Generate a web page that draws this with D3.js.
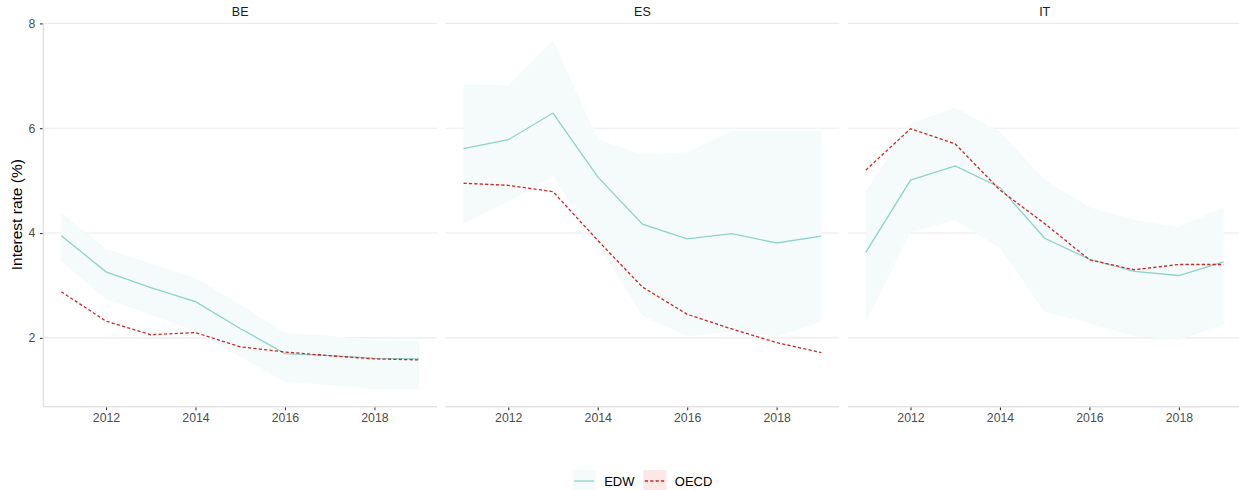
<!DOCTYPE html>
<html>
<head>
<meta charset="utf-8">
<script src="https://cdn.jsdelivr.net/npm/d3@7"></script>
<style>
  html, body { margin: 0; padding: 0; background: #ffffff; }
  svg { display: block; font-family: "Liberation Sans", Arial, sans-serif; }
</style>
</head>
<body>
<svg id="chart" width="1239" height="490"></svg>
<script>
// Years on the x axis
const years = [2011, 2012, 2013, 2014, 2015, 2016, 2017, 2018, 2019];
const countries = ["BE", "ES", "IT"];
const seriesNames = ["EDW", "OECD"];
const yTicks = [2, 4, 6, 8];
const xTicks = [2012, 2014, 2016, 2018];

// EDW central estimate and its band, OECD reference rate (%)
const beEdw  = [3.95, 3.26, 2.96, 2.69, 2.18, 1.70, 1.66, 1.61, 1.60];
const beLow  = [3.45, 2.74, 2.44, 2.12, 1.64, 1.16, 1.10, 1.02, 1.02];
const beHigh = [4.38, 3.70, 3.42, 3.14, 2.63, 2.10, 2.04, 1.96, 1.94];
const beOecd = [2.88, 2.32, 2.06, 2.10, 1.83, 1.73, 1.66, 1.60, 1.58];

const esEdw  = [5.61, 5.78, 6.29, 5.07, 4.17, 3.89, 3.99, 3.81, 3.94];
const esLow  = [4.18, 4.60, 5.09, 3.78, 2.42, 2.03, 2.12, 2.03, 2.31];
const esHigh = [6.83, 6.82, 7.68, 5.79, 5.50, 5.54, 5.94, 5.94, 5.94];
const esOecd = [4.95, 4.91, 4.79, 3.86, 2.97, 2.45, 2.17, 1.91, 1.72];

const itEdw  = [3.63, 5.01, 5.28, 4.87, 3.90, 3.50, 3.27, 3.19, 3.45];
const itLow  = [2.31, 4.02, 4.25, 3.71, 2.50, 2.28, 2.04, 1.96, 2.26];
const itHigh = [4.80, 6.09, 6.39, 5.93, 5.01, 4.49, 4.25, 4.11, 4.49];
const itOecd = [5.20, 5.99, 5.70, 4.82, 4.18, 3.49, 3.30, 3.40, 3.40];

const panels = [
  { name: countries[0], edw: beEdw, low: beLow, high: beHigh, oecd: beOecd },
  { name: countries[1], edw: esEdw, low: esLow, high: esHigh, oecd: esOecd },
  { name: countries[2], edw: itEdw, low: itLow, high: itHigh, oecd: itOecd }
];

const colEdw = "#8dd3c7";
const colBand = "#f4fbfa";
const colOecd = "#cd2626";
const colOecdKey = "#fde8e8";
const colGrid = "#ebebeb";
const colAxis = "#e3e3e3";
const colTickText = "#4d4d4d";
const font = "Liberation Sans, Arial, sans-serif";

const svg = d3.select("#chart");

// Panel geometry
const panelTop = 22.7, panelBottom = 406.7;
const firstLeft = 43.4, panelWidth = 393.6, panelStep = 402.25;

// Shared y scale with 5% expansion of the data range
const allVals = panels.flatMap(p => [...p.edw, ...p.low, ...p.high, ...p.oecd]);
const yMin = d3.min(allVals), yMax = d3.max(allVals);
const yPad = (yMax - yMin) * 0.05;
const y = d3.scaleLinear().domain([yMin - yPad, yMax + yPad]).range([panelBottom, panelTop]);

const xPad = (d3.max(years) - d3.min(years)) * 0.05;

panels.forEach((p, i) => {
  const left = firstLeft + i * panelStep;
  const x = d3.scaleLinear()
    .domain([d3.min(years) - xPad, d3.max(years) + xPad])
    .range([left, left + panelWidth]);

  const g = svg.append("g");

  // horizontal grid
  g.selectAll("line.grid").data(yTicks).join("line")
    .attr("x1", left).attr("x2", left + panelWidth)
    .attr("y1", d => y(d)).attr("y2", d => y(d))
    .attr("stroke", colGrid).attr("stroke-width", 1.1);

  // strip label
  g.append("text")
    .attr("x", left + panelWidth / 2).attr("y", 15.5)
    .attr("text-anchor", "middle")
    .attr("font-size", 12.5).attr("fill", "#1a1a1a")
    .text(p.name);

  // band
  const area = d3.area()
    .x((d, j) => x(years[j]))
    .y0((d, j) => y(p.low[j]))
    .y1((d, j) => y(p.high[j]));
  g.append("path").datum(years).attr("d", area).attr("fill", colBand);

  // lines
  const line = arr => d3.line().x((d, j) => x(years[j])).y((d, j) => y(arr[j]))(years);
  g.append("path").attr("d", line(p.edw))
    .attr("fill", "none").attr("stroke", colEdw).attr("stroke-width", 1.3);
  g.append("path").attr("d", line(p.oecd))
    .attr("fill", "none").attr("stroke", colOecd).attr("stroke-width", 1.3)
    .attr("stroke-dasharray", "3.2,2.2");

  // x axis
  const xAxis = d3.axisBottom(x).tickValues(xTicks).tickFormat(d3.format("d"))
    .tickSize(3.5).tickPadding(3);
  const ax = g.append("g").attr("transform", `translate(0,${panelBottom})`).call(xAxis);
  ax.select(".domain").remove();
  ax.selectAll(".tick line").attr("stroke", "#333333").attr("stroke-width", 1.1);
  ax.selectAll(".tick text").attr("fill", colTickText).attr("font-size", 12.3)
    .attr("font-family", font);
  g.append("line")
    .attr("x1", left).attr("x2", left + panelWidth)
    .attr("y1", panelBottom).attr("y2", panelBottom)
    .attr("stroke", colAxis).attr("stroke-width", 1.6);

  // y axis on the first panel only
  if (i === 0) {
    const yAxis = d3.axisLeft(y).tickValues(yTicks).tickFormat(d3.format("d"))
      .tickSize(3.5).tickPadding(4.5);
    const ay = g.append("g").attr("transform", `translate(${left},0)`).call(yAxis);
    ay.select(".domain").remove();
    ay.selectAll(".tick line").attr("stroke", "#333333").attr("stroke-width", 1.1);
    ay.selectAll(".tick text").attr("fill", colTickText).attr("font-size", 12.3)
      .attr("font-family", font);
    g.append("line")
      .attr("x1", left).attr("x2", left)
      .attr("y1", panelTop).attr("y2", panelBottom)
      .attr("stroke", colAxis).attr("stroke-width", 1.6);
  }
});

// y axis title
svg.append("text")
  .attr("transform", `translate(21.5,${(panelTop + panelBottom) / 2}) rotate(-90)`)
  .attr("text-anchor", "middle")
  .attr("font-size", 15.5).attr("fill", "#000000")
  .text("Interest rate (%)");

// legend
const legend = svg.append("g").attr("transform", "translate(572.7,470)");
const keyW = 23, keyH = 20;
const legendItems = [
  { label: seriesNames[0], fill: colBand, stroke: colEdw, dash: null, x: 0 },
  { label: seriesNames[1], fill: colOecdKey, stroke: colOecd, dash: "3.2,2.2", x: 70.6 }
];
legendItems.forEach(it => {
  const k = legend.append("g").attr("transform", `translate(${it.x},0)`);
  k.append("rect").attr("width", keyW).attr("height", keyH).attr("fill", it.fill);
  k.append("line").attr("x1", 1.5).attr("x2", keyW - 1.5)
    .attr("y1", keyH / 2 + 1).attr("y2", keyH / 2 + 1)
    .attr("stroke", it.stroke).attr("stroke-width", 1.3)
    .attr("stroke-dasharray", it.dash);
  k.append("text").attr("x", keyW + 8.5).attr("y", keyH / 2 + 5.5)
    .attr("font-size", 13).attr("fill", "#000000").text(it.label);
});
</script>
</body>
</html>
